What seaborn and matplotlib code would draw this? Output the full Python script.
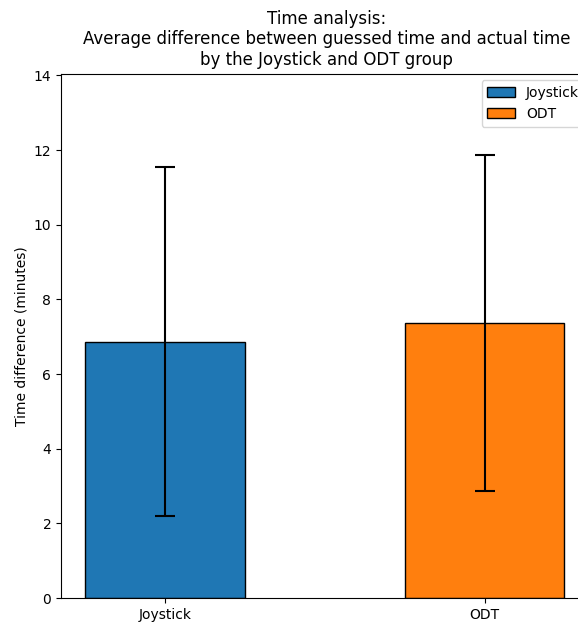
import matplotlib
matplotlib.use("Agg")
import matplotlib.pyplot as plt
import seaborn as sns
import pandas as pd
from matplotlib.patches import Patch

groups = ["Joystick", "ODT"]
means = [6.87, 7.37]
errors = [4.67, 4.51]
colors = ["#1f77b4", "#ff7f0e"]

df = pd.DataFrame({"group": groups, "mean": means, "err": errors})

fig = plt.figure(figsize=(5.78, 6.23), dpi=100)
ax = fig.add_axes([0.1055, 0.0401, 0.918, 0.8419])

sns.barplot(data=df, x="group", y="mean", hue="group", palette=colors,
            edgecolor="black", linewidth=1, width=0.5, legend=False, ax=ax,
            saturation=1)
ax.errorbar(range(len(groups)), df["mean"], yerr=df["err"], fmt="none",
            ecolor="black", elinewidth=1.5, capsize=7, capthick=1.5)

ax.set_xlim(-0.325, 1.335)
ax.set_ylim(0, 14.05)
ax.set_xlabel("")
ax.set_ylabel("Time difference (minutes)")
ax.set_title("Time analysis:\nAverage difference between guessed time and actual time\nby the Joystick and ODT group")

handles = [Patch(facecolor=c, edgecolor="black", label=g) for g, c in zip(groups, colors)]
ax.legend(handles=handles, loc="upper right")

fig.savefig("out.png", dpi=100)
